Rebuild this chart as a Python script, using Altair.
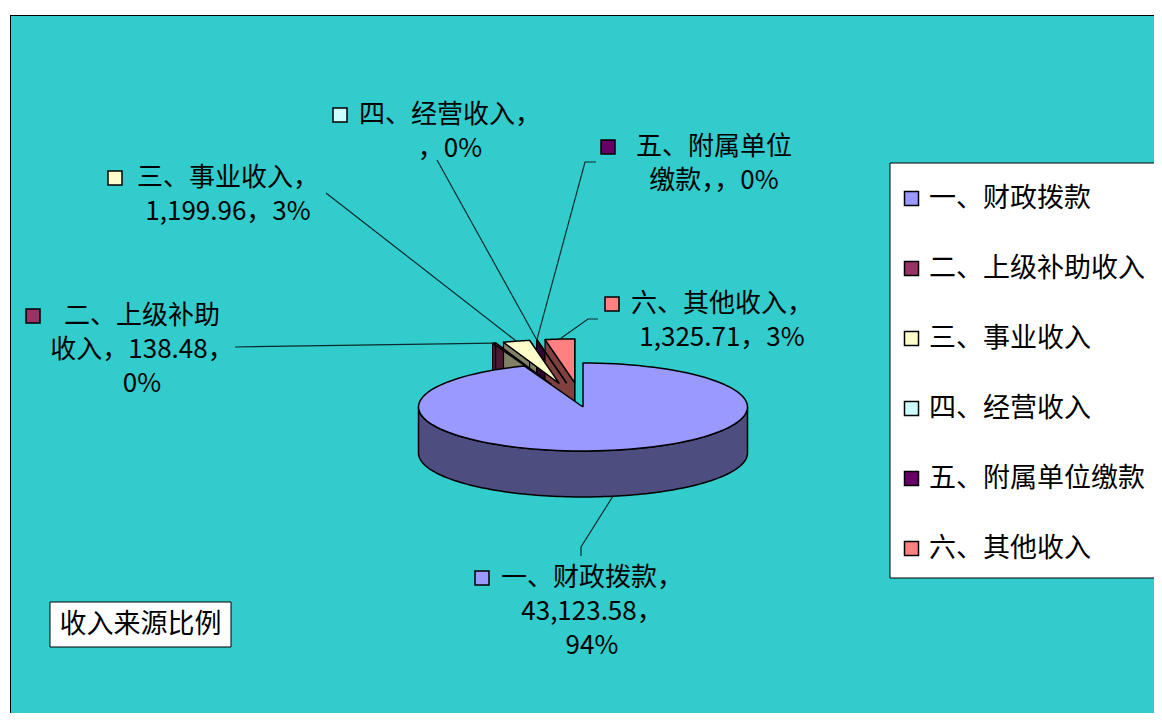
import altair as alt
import pandas as pd

# ---------------- data ----------------
categories = ["一、财政拨款", "二、上级补助收入", "三、事业收入", "四、经营收入", "五、附属单位缴款", "六、其他收入"]
values = [43123.58, 138.48, 1199.96, 0.0, 0.0, 1325.71]

# ---------------- styles ----------------
top_colors = ["#9999FF", "#993366", "#FFFFCC", "#CCFFFF", "#660066", "#FF8080"]
side_colors = ["#4D4D80", "#4D1A33", "#808066", "#668080", "#330033", "#804040"]
explode = [0, 0.55, 0.55, 0.55, 0.55, 0.55]
FONT = "Noto Sans CJK SC"
FS = 27
LFS = 26

# ---------------- layout (page pixels) ----------------
W, H = 1144, 698
X0, Y0 = 10, 15
CX, CY, RX, RY, DEPTH = 583, 407, 164.5, 44, 46
N = 120
label_breaks = [[7, 17], [6, 16], [7], [7], [6], [7]]
label_cx = [592, 142, 228, 450, 714, 722]
label_y1 = [578, 316, 178, 115, 147, 304]
LINE_H = 34
BASE_SHIFT = 8.1
marker_x = [482, 33, 115, 340, 608, 612]
anchor_x = [581, 235, 326, 437, 596, 598]
anchor_y = [556, 347, 193, 160, 162, 319]
elbow_x = [581, 235, 326, 437, 585, 588]
elbow_y = [547, 347, 193, 160, 162, 319]

total = sum(values)

df = pd.DataFrame({
    "cat": categories,
    "value": values,
    "idx": list(range(len(categories))),
    "side": side_colors,
    "ex": explode,
    "ax": anchor_x, "ay": anchor_y,
    "bx": elbow_x, "by": elbow_y,
})

# data labels (one multi-line text per slice)
rows = []
markers = []
for i, (c, v) in enumerate(zip(categories, values)):
    vs = f"{v:,.2f}" if v else ""
    pct = f"{round(v / total * 100)}%"
    full = f"{c}，{vs}，{pct}"
    cuts = [0] + label_breaks[i] + [len(full)]
    lines = [full[cuts[j]:cuts[j + 1]] for j in range(len(cuts) - 1)]
    rows.append({"txt": "\n".join(lines), "lx": label_cx[i], "ly": label_y1[i] + BASE_SHIFT})
    markers.append({"cat": c, "mx": marker_x[i], "my": label_y1[i]})
labels_df = pd.DataFrame(rows)
markers_df = pd.DataFrame(markers)

xs = alt.Scale(domain=[X0, X0 + W], nice=False, zero=False)
ys = alt.Scale(domain=[Y0, Y0 + H], nice=False, zero=False, reverse=True)

legend = alt.Legend(orient="none", legendX=888, legendY=170, title=None, symbolType="square",
                    symbolSize=196, symbolStrokeColor="black", symbolStrokeWidth=1.5,
                    labelFont=FONT, labelFontSize=FS, labelColor="black", rowPadding=42,
                    labelOffset=4, padding=0, symbolOpacity=1, labelLimit=0)
color = alt.Color("cat:N", scale=alt.Scale(domain=categories, range=top_colors), legend=legend)


def geo(ch):
    return (ch.transform_joinaggregate(total="sum(value)")
            .transform_window(cum="sum(value)", sort=[alt.SortField("idx")], frame=[None, 0])
            .transform_calculate(a0="2*PI*(datum.cum-datum.value)/datum.total")
            .transform_calculate(a1="2*PI*datum.cum/datum.total")
            .transform_calculate(mid="(datum.a0+datum.a1)/2")
            .transform_calculate(ox=f"datum.ex*{RX}*sin(datum.mid)")
            .transform_calculate(oy=f"-datum.ex*{RY}*cos(datum.mid)"))


base = alt.Chart(df)

# side band (front visible part)
sides = (geo(base)
         .transform_calculate(s0="max(datum.a0, PI/2)")
         .transform_calculate(s1="min(datum.a1, 3*PI/2)")
         .transform_filter("datum.s1 > datum.s0")
         .transform_calculate(k=f"sequence(0, {2 * N + 3})")
         .transform_flatten(["k"])
         .transform_calculate(ang=f"datum.k <= {N} ? datum.s0 + (datum.s1-datum.s0)*datum.k/{N} : "
                                  f"(datum.k <= {2 * N + 1} ? datum.s1 - (datum.s1-datum.s0)*(datum.k-{N + 1})/{N} : datum.s0)")
         .transform_calculate(dz=f"(datum.k <= {N} || datum.k == {2 * N + 2}) ? 0 : {DEPTH}")
         .transform_calculate(px=f"{CX} + datum.ox + {RX}*sin(datum.ang)")
         .transform_calculate(py=f"{CY} + datum.oy - {RY}*cos(datum.ang) + datum.dz")
         .mark_line(filled=True, stroke="black", strokeWidth=1.5, strokeJoin="round")
         .encode(x=alt.X("px:Q", scale=xs, axis=None), y=alt.Y("py:Q", scale=ys, axis=None),
                 fill=alt.Fill("side:N", scale=None), detail="cat:N", order="k:Q"))

# radial walls of exploded slices
walls = (geo(base)
         .transform_filter("datum.ex > 0")
         .transform_calculate(k="sequence(0, 10)")
         .transform_flatten(["k"])
         .transform_calculate(w="floor(datum.k/5)")
         .transform_calculate(j="datum.k % 5")
         .transform_calculate(ang="datum.w == 0 ? datum.a0 : datum.a1")
         .transform_calculate(r="(datum.j == 1 || datum.j == 2) ? 1 : 0")
         .transform_calculate(dz=f"(datum.j == 2 || datum.j == 3) ? {DEPTH} : 0")
         .transform_calculate(px=f"{CX} + datum.ox + datum.r*{RX}*sin(datum.ang)")
         .transform_calculate(py=f"{CY} + datum.oy - datum.r*{RY}*cos(datum.ang) + datum.dz")
         .transform_calculate(grp="datum.cat + '_' + datum.w")
         .mark_line(filled=True, stroke="black", strokeWidth=1.2, strokeJoin="round")
         .encode(x=alt.X("px:Q", scale=xs, axis=None), y=alt.Y("py:Q", scale=ys, axis=None),
                 fill=alt.Fill("side:N", scale=None), detail="grp:N", order="j:Q"))


def tops(filt):
    return (geo(base)
            .transform_filter(filt)
            .transform_calculate(k=f"sequence(0, {N + 3})")
            .transform_flatten(["k"])
            .transform_calculate(t=f"min(max(datum.k-1, 0), {N})/{N}")
            .transform_calculate(c=f"(datum.k == 0 || datum.k == {N + 2}) ? 0 : 1")
            .transform_calculate(ang="datum.a0 + (datum.a1-datum.a0)*datum.t")
            .transform_calculate(px=f"{CX} + datum.ox + datum.c*{RX}*sin(datum.ang)")
            .transform_calculate(py=f"{CY} + datum.oy - datum.c*{RY}*cos(datum.ang)")
            .mark_line(filled=True, stroke="black", strokeWidth=1.5, strokeJoin="round")
            .encode(x=alt.X("px:Q", scale=xs, axis=None), y=alt.Y("py:Q", scale=ys, axis=None),
                    color=color, order="k:Q"))


small_tops = tops("datum.ex > 0")
big_tops = tops("datum.ex == 0")

leaders = (geo(base)
           .transform_calculate(k="sequence(0, 3)")
           .transform_flatten(["k"])
           .transform_calculate(front="(datum.mid > PI/2 && datum.mid < 3*PI/2) ? 1 : 0")
           .transform_calculate(rimx=f"{CX} + datum.ox + {RX}*sin(datum.mid)")
           .transform_calculate(rimy=f"{CY} + datum.oy - {RY}*cos(datum.mid) + datum.front*{DEPTH}")
           .transform_calculate(px="datum.k == 0 ? datum.ax : (datum.k == 1 ? datum.bx : datum.rimx)")
           .transform_calculate(py="datum.k == 0 ? datum.ay : (datum.k == 1 ? datum.by : datum.rimy)")
           .mark_line(stroke="#0c2a2a", strokeWidth=1.2)
           .encode(x=alt.X("px:Q", scale=xs, axis=None), y=alt.Y("py:Q", scale=ys, axis=None),
                   detail="cat:N", order="k:Q"))

marker_layer = (alt.Chart(markers_df)
                .mark_square(size=196, stroke="black", strokeWidth=1.5, opacity=1)
                .encode(x=alt.X("mx:Q", scale=xs, axis=None), y=alt.Y("my:Q", scale=ys, axis=None),
                        color=color))

text_layer = (alt.Chart(labels_df)
              .mark_text(font=FONT, fontSize=LFS, align="center", baseline="alphabetic", color="black",
                         lineBreak="\n", lineHeight=LINE_H)
              .encode(x=alt.X("lx:Q", scale=xs, axis=None), y=alt.Y("ly:Q", scale=ys, axis=None),
                      text="txt:N"))

legend_box = (alt.Chart(alt.Data(values=[{}]))
              .mark_rect(fill="white", stroke="black", strokeWidth=1)
              .encode(x=alt.value(880), x2=alt.value(W + 20), y=alt.value(148), y2=alt.value(563)))

frame = (alt.Chart(alt.Data(values=[{}]))
         .mark_rule(color="black", strokeWidth=1)
         .encode(x=alt.value(0.5), x2=alt.value(0.5), y=alt.value(0), y2=alt.value(H)))
frame_top = (alt.Chart(alt.Data(values=[{}]))
             .mark_rule(color="black", strokeWidth=1)
             .encode(x=alt.value(0), x2=alt.value(W), y=alt.value(0.5), y2=alt.value(0.5)))

title_df = pd.DataFrame({"title": ["收入来源比例"]})
title_box = (alt.Chart(title_df)
             .mark_rect(fill="white", stroke="black", strokeWidth=1)
             .encode(x=alt.value(40), x2=alt.value(221), y=alt.value(587), y2=alt.value(632)))
title_text = (alt.Chart(title_df)
              .mark_text(font=FONT, fontSize=FS, align="center", baseline="middle", color="black")
              .encode(x=alt.value(130.5), y=alt.value(610), text="title:N"))

chart = (alt.layer(legend_box, title_box, walls, small_tops, sides, big_tops, leaders,
                   marker_layer, text_layer, title_text, frame, frame_top)
         .properties(width=W, height=H, background="white",
                     padding={"left": 2, "top": 7, "right": 0, "bottom": 0},
                     autosize=alt.AutoSizeParams(type="none"))
         .configure_view(fill="#33CCCC", stroke=None))

chart.save("out.html", embed_options={"renderer": "svg", "actions": False})
